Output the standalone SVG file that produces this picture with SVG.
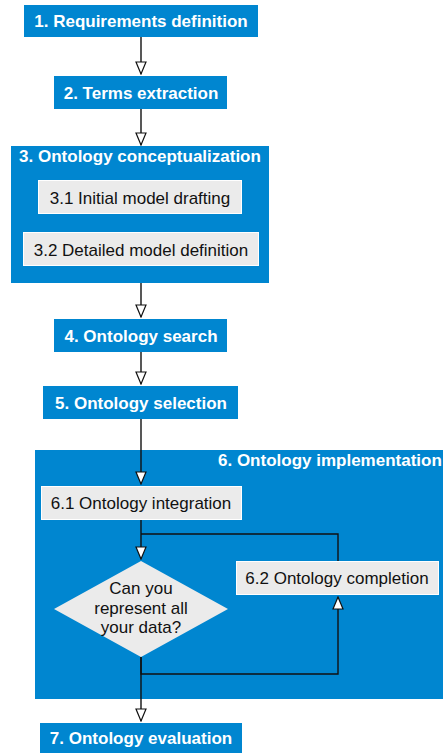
<svg xmlns="http://www.w3.org/2000/svg" width="443" height="753" viewBox="0 0 443 753">
<defs>
<style>
.blue{fill:#0086d0}
.sub{fill:#ebebeb;stroke:#ffffff;stroke-width:1}
.bt{font-family:"Liberation Sans",Arial,sans-serif;font-weight:bold;font-size:17px;fill:#ffffff;text-anchor:middle}
.rt{font-family:"Liberation Sans",Arial,sans-serif;font-size:17px;fill:#111111;text-anchor:middle}
.ln{fill:none;stroke:#111111;stroke-width:1.4}
</style>
<marker id="arr" viewBox="0 0 14 12" refX="13" refY="6" markerWidth="14" markerHeight="12" markerUnits="userSpaceOnUse" orient="auto">
<path d="M1,1 L13,6 L1,11 Z" fill="#ffffff" stroke="#111111" stroke-width="1.2"/>
</marker>
</defs>
<g id="n1"><rect class="blue" x="24" y="5" width="234" height="32"/><text class="bt" x="141" y="27">1. Requirements definition</text></g>
<g id="n2"><rect class="blue" x="54" y="76" width="173" height="33"/><text class="bt" x="141" y="98.5">2. Terms extraction</text></g>
<g id="n3"><rect class="blue" x="11" y="146" width="258" height="137"/><text class="bt" x="140" y="162">3. Ontology conceptualization</text>
<g id="n3_1"><rect class="sub" x="38.5" y="180.5" width="203" height="33"/><text class="rt" x="140" y="203.5">3.1 Initial model drafting</text></g>
<g id="n3_2"><rect class="sub" x="23.5" y="232.5" width="235" height="33"/><text class="rt" x="141" y="255.5">3.2 Detailed model definition</text></g>
</g>
<g id="n4"><rect class="blue" x="54" y="319" width="173" height="33"/><text class="bt" x="141" y="341.5">4. Ontology search</text></g>
<g id="n5"><rect class="blue" x="43" y="386" width="195" height="33"/><text class="bt" x="141" y="408.5">5. Ontology selection</text></g>
<g id="n6"><rect class="blue" x="35" y="450" width="408" height="249"/><text class="bt" x="218" y="466" style="text-anchor:start">6. Ontology implementation</text>
<g id="n6_1"><rect class="sub" x="41.5" y="486.5" width="200" height="33"/><text class="rt" x="141" y="509">6.1 Ontology integration</text></g>
<g id="n6_q"><path d="M141,561 L228,609 L141,657 L54,609 Z" fill="#ebebeb"/>
<text class="rt" x="141" y="594">Can you</text><text class="rt" x="141" y="613.5">represent all</text><text class="rt" x="141" y="633">your data?</text></g>
<g id="n6_2"><rect class="sub" x="236.5" y="561.5" width="202" height="33"/><text class="rt" x="337" y="584">6.2 Ontology completion</text></g>
</g>
<g id="n7"><rect class="blue" x="40" y="723" width="202" height="30"/><text class="bt" x="141" y="744">7. Ontology evaluation</text></g>
<g id="connectors">
<path class="ln" d="M141,37 V74" marker-end="url(#arr)"/>
<path class="ln" d="M141,109 V145" marker-end="url(#arr)"/>
<path class="ln" d="M141,283 V317" marker-end="url(#arr)"/>
<path class="ln" d="M141,352 V384" marker-end="url(#arr)"/>
<path class="ln" d="M141,419 V484" marker-end="url(#arr)"/>
<path class="ln" d="M141,520 V559" marker-end="url(#arr)"/>
<path class="ln" d="M338,561 V534 H141"/>
<path class="ln" d="M141,657 V674 H338 V597" marker-end="url(#arr)"/>
<path class="ln" d="M141,657 V721" marker-end="url(#arr)"/>
</g>
</svg>
